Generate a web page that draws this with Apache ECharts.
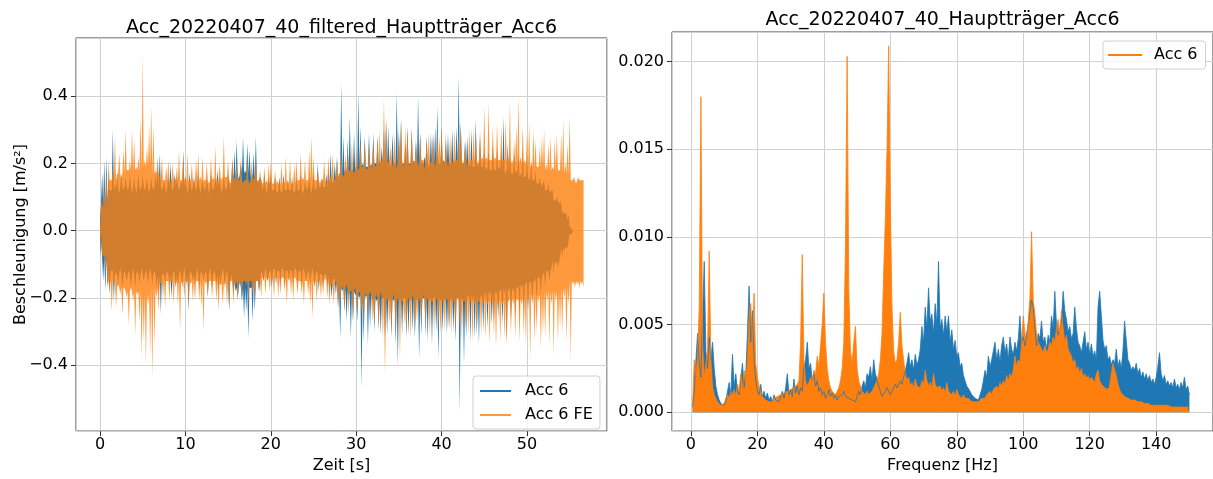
<!DOCTYPE html>
<html>
<head>
<meta charset="utf-8">
<script src="https://cdn.jsdelivr.net/npm/echarts@6/dist/echarts.min.js"></script>
<style>
  html, body { margin: 0; padding: 0; background: #ffffff; }
  #chart { width: 1213px; height: 479px; }
</style>
</head>
<body>
<div id="chart"></div>
<script>
// ---------------------------------------------------------------------------
// Time history: per 0.25 s column, the positive and negative peak
// (values in 0.01 m/s², one row = one second)
// ---------------------------------------------------------------------------
const timeStep = 0.25;

const acc6Max = [
  3, 17, 21, 22,   17, 12, 30, 14,   16, 11, 17, 12,   16, 12, 17, 11,   16, 11, 17, 12,   // 0-4 s
  17, 12, 16, 11,  16, 12, 17, 20,   23, 12, 15, 11,   16, 20, 12, 17,   16, 12, 15, 24,   // 5-9 s
  16, 11, 17, 12,  16, 12, 17, 11,   15, 12, 16, 11,   17, 12, 16, 18,   16, 11, 17, 12,   // 10-14 s
  17, 12, 21, 24,  27, 15, 20, 28,   18, 26, 24, 15,   23, 28, 14, 16,   12, 17, 11, 16,   // 15-19 s
  17, 12, 16, 11,  16, 11, 17, 12,   15, 12, 16, 11,   16, 12, 17, 11,   15, 12, 16, 11,   // 20-24 s
  17, 12, 20, 13,  16, 13, 17, 19,   23, 14, 20, 22,   17, 44, 28, 19,   27, 34, 18, 29,   // 25-29 s
  19, 41, 31, 20,  28, 19, 29, 20,   29, 20, 28, 21,   25, 30, 33, 31,   19, 29, 20, 41,   // 30-34 s
  30, 33, 20, 26,  31, 20, 30, 21,   27, 40, 29, 20,   22, 28, 19, 29,   29, 31, 37, 20,   // 35-39 s
  31, 21, 27, 29,  20, 30, 21, 31,   46, 32, 20, 27,   28, 20, 30, 19,   33, 20, 28, 19,   // 40-44 s
  25, 19, 24, 18,  25, 18, 24, 19,   25, 34, 18, 26,   24, 17, 23, 18,   23, 17, 24, 16,   // 45-49 s
  21, 16, 21, 15,  18, 14, 16, 13,   15, 12, 14, 11,   12, 9, 10, 8,     8, 6, 5, 3,       // 50-54 s
  1, 0                                                                                    // 55 s
];
const acc6Min = [
  -3, -15, -18, -17,   -19, -12, -21, -13,   -16, -11, -17, -12,   -15, -12, -17, -11,   -17, -12, -16, -11,
  -15, -12, -16, -11,  -16, -12, -17, -19,   -25, -13, -16, -12,   -16, -20, -12, -17,   -16, -12, -17, -11,
  -16, -24, -12, -15,  -16, -11, -17, -12,   -15, -12, -20, -11,   -17, -12, -16, -18,   -16, -11, -17, -12,
  -24, -13, -19, -18,  -20, -15, -21, -26,   -24, -32, -17, -27,   -24, -15, -18, -12,   -15, -11, -15, -12,
  -17, -11, -16, -12,  -16, -11, -17, -12,   -15, -12, -16, -11,   -16, -12, -17, -11,   -15, -12, -16, -11,
  -17, -12, -18, -13,  -16, -13, -17, -19,   -20, -14, -19, -23,   -32, -18, -24, -27,   -20, -32, -27, -19,
  -27, -20, -47, -33,  -20, -34, -29, -21,   -30, -21, -29, -31,   -20, -32, -31, -21,   -32, -21, -34, -40,
  -22, -31, -20, -32,  -31, -21, -30, -32,   -21, -38, -31, -20,   -31, -33, -21, -34,   -20, -30, -38, -21,
  -30, -21, -31, -29,  -21, -30, -33, -20,   -54, -21, -40, -32,   -20, -33, -21, -32,   -31, -34, -20, -30,
  -20, -29, -19, -28,  -27, -19, -26, -18,   -28, -19, -33, -18,   -26, -18, -25, -17,   -25, -17, -24, -16,
  -24, -16, -22, -15,  -21, -14, -19, -13,   -17, -12, -15, -11,   -13, -10, -11, -8,    -8, -6, -5, -3,
  -1, 0
];
// Half-width of the dense core of the trace, one value per second
const acc6Core = [
  8, 12, 13, 13, 13, 13, 13, 13, 13, 13,   13, 13, 13, 13, 13, 15, 17, 17, 15, 13,
  12, 12, 12, 12, 13, 13, 13, 15, 17, 18,  19, 19, 20, 20, 20, 20, 20, 20, 20, 20,
  20, 20, 20, 19, 19, 18, 18, 17, 17, 16,  15, 14, 12, 9, 5, 1
];

const acc6FeMax = [
  1, 9, 14, 18,    21, 15, 19, 28,   17, 23, 15, 24,   30, 18, 21, 30,   27, 19, 22, 34,   // 0-4 s
  52, 21, 25, 31,  37, 31, 18, 22,   16, 22, 15, 19,   21, 14, 20, 16,   19, 24, 15, 22,   // 5-9 s
  16, 23, 15, 20,  14, 21, 23, 16,   22, 15, 20, 14,   22, 16, 25, 15,   20, 15, 28, 16,   // 10-14 s
  21, 14, 22, 16,  21, 15, 22, 14,   15, 22, 14, 21,   16, 22, 15, 18,   14, 19, 15, 20,   // 15-19 s
  21, 14, 18, 15,  14, 20, 15, 22,   15, 21, 14, 20,   21, 15, 23, 16,   21, 15, 24, 28,   // 20-24 s
  22, 15, 18, 14,  15, 21, 14, 22,   16, 23, 15, 21,   17, 24, 16, 23,   24, 18, 26, 17,   // 25-29 s
  25, 18, 27, 19,  27, 18, 26, 19,   27, 19, 28, 30,   21, 39, 33, 20,   25, 19, 29, 18,   // 30-34 s
  28, 33, 19, 31,  30, 19, 31, 20,   26, 19, 29, 21,   18, 27, 29, 20,   28, 19, 30, 28,   // 35-39 s
  31, 20, 29, 19,  28, 20, 30, 21,   29, 32, 20, 26,   19, 30, 21, 30,   29, 20, 30, 22,   // 40-44 s
  37, 22, 38, 21,  31, 22, 32, 21,   31, 21, 33, 22,   38, 21, 27, 31,   40, 22, 31, 21,   // 45-49 s
  29, 32, 20, 30,  27, 19, 25, 28,   30, 20, 26, 28,   19, 27, 29, 18,   29, 33, 20, 26,   // 50-54 s
  34, 15, 16, 14,  16, 15, 15                                                             // 55-56.5 s
];
const acc6FeMin = [
  -1, -8, -13, -16,    -18, -24, -15, -23,   -16, -19, -25, -17,   -20, -28, -17, -21,   -31, -19, -27, -38,
  -33, -40, -22, -37,  -44, -34, -20, -24,   -16, -20, -23, -15,   -21, -15, -22, -16,   -22, -30, -16, -20,
  -15, -23, -16, -21,  -21, -15, -21, -23,   -30, -16, -19, -15,   -20, -15, -21, -24,   -16, -22, -15, -22,
  -23, -15, -22, -16,  -21, -16, -20, -15,   -16, -22, -15, -19,   -21, -15, -18, -20,   -14, -19, -15, -18,
  -15, -20, -14, -20,  -19, -14, -18, -22,   -15, -19, -21, -14,   -19, -15, -19, -22,   -15, -19, -22, -26,
  -16, -21, -15, -20,  -19, -14, -20, -22,   -16, -22, -15, -23,   -22, -17, -24, -16,   -25, -18, -27, -17,
  -24, -18, -25, -28,  -19, -26, -18, -27,   -28, -19, -30, -18,   -32, -43, -20, -28,   -30, -19, -32, -20,
  -38, -21, -28, -31,  -20, -32, -19, -30,   -27, -20, -28, -19,   -29, -20, -31, -21,   -30, -20, -29, -31,
  -21, -30, -20, -29,  -31, -21, -30, -20,   -29, -32, -21, -30,   -31, -21, -33, -22,   -30, -21, -31, -22,
  -32, -22, -34, -21,  -31, -35, -22, -33,   -22, -32, -34, -21,   -31, -22, -32, -21,   -33, -22, -31, -34,
  -22, -38, -21, -33,  -30, -21, -35, -31,   -32, -21, -34, -22,   -37, -21, -33, -29,   -31, -20, -33, -22,
  -39, -16, -17, -16,  -17, -16, -17
];
const acc6FeCore = [
  7, 15, 17, 18, 18, 19, 17, 15, 15, 15,   15, 15, 15, 15, 16, 15, 15, 15, 15, 14,
  14, 14, 14, 15, 15, 15, 15, 16, 17, 18,  19, 19, 20, 21, 21, 21, 21, 21, 21, 21,
  21, 21, 21, 21, 21, 21, 21, 21, 20, 20,  19, 19, 18, 18, 17, 15, 15
];

// ---------------------------------------------------------------------------
// Amplitude spectrum, every 0.5 Hz starting at 0.5 Hz (values in 1e-4)
// one row = 5 Hz
// ---------------------------------------------------------------------------
const freqStart = 0.5;
const freqStep = 0.5;

const spectrumMeasured = [
  3, 12, 30, 45, 28, 20, 55, 86, 35, 25,        // 0.5-5
  43, 30, 40, 25, 15, 10, 7, 5, 4, 4,           // 5.5-10
  6, 12, 17, 10, 33, 15, 22, 12, 10, 18,        // 10.5-15
  28, 14, 22, 45, 72, 40, 58, 30, 18, 12,       // 15.5-20
  10, 16, 9, 12, 8, 11, 7, 9, 6, 10,            // 20.5-25
  7, 8, 6, 9, 12, 8, 14, 22, 10, 13,            // 25.5-30
  9, 19, 11, 15, 10, 14, 12, 25, 30, 40,        // 30.5-35
  25, 28, 18, 22, 15, 18, 12, 14, 10, 12,       // 35.5-40
  8, 10, 13, 9, 11, 8, 10, 7, 9, 8,             // 40.5-45
  10, 12, 9, 10, 8, 9, 7, 8, 6, 9,              // 45.5-50
  12, 10, 15, 18, 14, 22, 20, 26, 18, 30,       // 50.5-55
  22, 19, 15, 12, 9, 10, 12, 14, 12, 10,        // 55.5-60
  12, 14, 16, 14, 15, 18, 16, 20, 24, 28,       // 60.5-65
  34, 26, 30, 24, 33, 27, 30, 36, 49, 40,       // 65.5-70
  60, 48, 71, 52, 56, 45, 62, 50, 86, 48,       // 70.5-75
  53, 44, 55, 46, 55, 40, 47, 36, 41, 32,       // 75.5-80
  34, 26, 28, 21, 20, 15, 14, 12, 10, 9,        // 80.5-85
  8, 7, 7, 8, 13, 18, 24, 20, 32, 26,           // 85.5-90
  30, 35, 40, 30, 36, 29, 38, 43, 34, 39,       // 90.5-95
  30, 43, 36, 33, 40, 35, 42, 55, 40, 43,       // 95.5-100
  38, 45, 50, 58, 64, 60, 48, 38, 45, 42,       // 100.5-105
  52, 40, 43, 36, 44, 40, 55, 48, 69, 50,       // 105.5-110
  44, 47, 52, 69, 58, 53, 46, 49, 42, 45,       // 110.5-115
  60, 48, 40, 38, 34, 40, 46, 36, 40, 33,       // 115.5-120
  39, 32, 35, 30, 60, 69, 68, 41, 36, 38,       // 120.5-125
  30, 32, 27, 30, 28, 36, 26, 30, 25, 35,       // 125.5-130
  52, 41, 30, 28, 24, 26, 24, 28, 22, 25,       // 130.5-135
  20, 23, 19, 22, 18, 21, 17, 19, 16, 20,       // 135.5-140
  26, 34, 22, 18, 21, 16, 18, 15, 17, 14,       // 140.5-145
  19, 14, 16, 13, 17, 14, 20, 13, 15, 10        // 145.5-150
];
const spectrumAcc6 = [
  5, 30, 22, 32, 60, 180, 40, 20, 28, 35,       // 0.5-5
  92, 30, 15, 10, 8, 6, 5, 4, 4, 5,             // 5.5-10
  8, 10, 8, 12, 10, 13, 9, 16, 12, 22,          // 10.5-15
  14, 24, 18, 30, 55, 62, 40, 68, 28, 20,       // 15.5-20
  15, 12, 9, 8, 7, 8, 6, 7, 6, 8,               // 20.5-25
  7, 9, 8, 10, 9, 11, 10, 12, 11, 13,           // 25.5-30
  12, 14, 13, 16, 18, 40, 90, 30, 18, 15,       // 30.5-35
  17, 20, 18, 24, 22, 32, 26, 38, 50, 68,       // 35.5-40
  40, 25, 18, 14, 12, 11, 10, 12, 14, 18,       // 40.5-45
  25, 40, 95, 203, 70, 35, 28, 40, 49, 25,      // 45.5-50
  18, 15, 12, 11, 10, 12, 10, 11, 12, 14,       // 50.5-55
  15, 18, 22, 30, 45, 80, 110, 150, 209, 120,   // 55.5-60
  60, 35, 28, 30, 40, 57, 38, 30, 22, 18,       // 60.5-65
  20, 15, 17, 14, 19, 15, 16, 14, 18, 16,       // 65.5-70
  24, 18, 15, 17, 14, 22, 16, 14, 13, 15,       // 70.5-75
  12, 14, 11, 17, 12, 11, 10, 12, 9, 13,        // 75.5-80
  10, 9, 8, 10, 8, 7, 8, 7, 6, 7,               // 80.5-85
  6, 7, 6, 7, 8, 9, 8, 10, 9, 12,               // 85.5-90
  10, 13, 12, 15, 13, 17, 15, 18, 16, 21,       // 90.5-95
  18, 22, 20, 24, 32, 26, 30, 28, 39, 55,       // 95.5-100
  45, 38, 52, 65, 103, 64, 56, 45, 40, 39,      // 100.5-105
  36, 34, 38, 34, 36, 40, 38, 43, 40, 48,       // 105.5-110
  53, 45, 58, 48, 40, 44, 36, 34, 32, 28,       // 110.5-115
  30, 24, 26, 22, 25, 20, 22, 19, 21, 18,       // 115.5-120
  20, 19, 17, 22, 24, 18, 16, 15, 14, 13,       // 120.5-125
  13, 15, 22, 28, 24, 21, 16, 13, 11, 10,       // 125.5-130
  9, 9, 8, 8, 7, 7, 7, 7, 6, 6,                 // 130.5-135
  6, 5, 5, 5, 5, 5, 4, 4, 4, 4,                 // 135.5-140
  4, 4, 4, 4, 4, 4, 4, 4, 3, 3,                 // 140.5-145
  3, 3, 3, 3, 3, 3, 3, 3, 3, 3                  // 145.5-150
];

// ---------------------------------------------------------------------------
// Build the series data
// ---------------------------------------------------------------------------
const BLUE = '#1f77b4';
const ORANGE = '#ff7f0e';
const FONT = 'DejaVu Sans';

// Outline of a dense trace: the positive peaks rise out of the core on top,
// the negative peaks hang below it; the outline is closed into one polygon.
function traceOutline(maxArr, minArr, coreArr) {
  const n = Math.min(maxArr.length, minArr.length);
  const upper = [];
  const lower = [];
  for (let i = 0; i < n; i++) {
    const t = i * timeStep;
    const c = coreArr[Math.min(Math.floor(t), coreArr.length - 1)] / 100;
    upper.push([t, maxArr[i] / 100], [t + timeStep / 2, c]);
    lower.push([t, -c], [t + timeStep / 2, minArr[i] / 100]);
  }
  return upper.concat(lower.reverse());
}
function spectrumRows(arr) {
  return arr.map((v, i) => [freqStart + i * freqStep, v / 10000]);
}

function signedFixed(dec) {
  return function (v) {
    const s = Math.abs(v).toFixed(dec);
    return v < -1e-12 ? '\u2212' + s : s;
  };
}

const acc6Outline = traceOutline(acc6Max, acc6Min, acc6Core);
const acc6FeOutline = traceOutline(acc6FeMax, acc6FeMin, acc6FeCore);

const labelStyle = { fontFamily: FONT, fontSize: 16, color: '#000' };
const tickStyle = { show: true, inside: false, length: 5, lineStyle: { color: '#333', width: 1 } };
const gridLine = { show: true, lineStyle: { color: '#d0d0d0', width: 1 } };
const noAxisLine = { show: false, onZero: false };

// The whole outline is drawn as a single polygon (on the first item),
// so a translucent fill never overlaps itself.
function outlineSeries(name, outline, color, fill) {
  return {
    name: name, type: 'custom', xAxisIndex: 0, yAxisIndex: 0, clip: true,
    itemStyle: { color: color },
    encode: { x: 0, y: 1 },
    data: outline,
    renderItem: function (params, api) {
      if (params.dataIndex !== 0) return null;
      return {
        type: 'polygon',
        shape: { points: outline.map(p => api.coord(p)) },
        style: { fill: fill }
      };
    }
  };
}

const option = {
  animation: false,
  backgroundColor: '#ffffff',
  graphic: [
    { type: 'text', x: 341.5, y: 28, silent: true,
      style: { text: 'Acc_20220407_40_filtered_Hauptträger_Acc6', font: '19px "DejaVu Sans"',
               fill: '#000', align: 'center', verticalAlign: 'middle' } },
    { type: 'text', x: 942.5, y: 20, silent: true,
      style: { text: 'Acc_20220407_40_Hauptträger_Acc6', font: '19px "DejaVu Sans"',
               fill: '#000', align: 'center', verticalAlign: 'middle' } }
  ],
  grid: [
    { left: 76, top: 38, width: 531, height: 399, show: true, borderColor: '#3c3c3c', borderWidth: 1 },
    { left: 672, top: 32, width: 542, height: 404, show: true, borderColor: '#3c3c3c', borderWidth: 1 }
  ],
  xAxis: [
    { type: 'value', gridIndex: 0, min: -2.81, max: 59.37, splitNumber: 5,
      name: 'Zeit [s]', nameLocation: 'middle', nameGap: 24, nameTextStyle: labelStyle,
      axisLine: noAxisLine, axisTick: tickStyle, splitLine: gridLine,
      axisLabel: Object.assign({ margin: 6, showMinLabel: false, showMaxLabel: false }, labelStyle) },
    { type: 'value', gridIndex: 1, min: -5.7, max: 157.1, splitNumber: 8,
      name: 'Frequenz [Hz]', nameLocation: 'middle', nameGap: 24, nameTextStyle: labelStyle,
      axisLine: noAxisLine, axisTick: tickStyle, splitLine: gridLine,
      axisLabel: Object.assign({ margin: 6, showMinLabel: false, showMaxLabel: false }, labelStyle) }
  ],
  yAxis: [
    { type: 'value', gridIndex: 0, min: -0.596, max: 0.573, splitNumber: 5,
      name: 'Beschleunigung [m/s²]', nameLocation: 'middle', nameGap: 47, nameRotate: 90,
      nameMoveOverlap: false, nameTextStyle: labelStyle,
      axisLine: noAxisLine, axisTick: tickStyle, splitLine: gridLine,
      axisLabel: Object.assign({ margin: 8, showMinLabel: false, showMaxLabel: false,
                                 formatter: signedFixed(1) }, labelStyle) },
    { type: 'value', gridIndex: 1, min: -0.00107, max: 0.02169, splitNumber: 5,
      axisLine: noAxisLine, axisTick: tickStyle, splitLine: gridLine,
      axisLabel: Object.assign({ margin: 8, showMinLabel: false, showMaxLabel: false,
                                 formatter: signedFixed(3) }, labelStyle) }
  ],
  legend: [
    { data: [{ name: 'Acc 6', itemStyle: { color: BLUE } },
             { name: 'Acc 6 FE', itemStyle: { color: ORANGE, opacity: 0.8 } }],
      orient: 'vertical', left: 473, top: 376, selectedMode: false,
      icon: 'rect', itemWidth: 31, itemHeight: 2, itemGap: 6,
      textStyle: { fontFamily: FONT, fontSize: 16, color: '#000', padding: [0, 0, 0, 9], lineHeight: 18 },
      backgroundColor: 'rgba(255,255,255,0.8)', borderColor: '#d0d0d0', borderWidth: 1, borderRadius: 3,
      padding: [6, 7, 5, 7] },
    { data: [{ name: 'Acc 6', itemStyle: { color: ORANGE } }],
      orient: 'vertical', left: 1103, top: 41, selectedMode: false,
      icon: 'rect', itemWidth: 34, itemHeight: 2,
      textStyle: { fontFamily: FONT, fontSize: 16, color: '#000', padding: [0, 0, 0, 7], lineHeight: 18 },
      backgroundColor: 'rgba(255,255,255,0.8)', borderColor: '#d0d0d0', borderWidth: 1, borderRadius: 3,
      padding: [5, 8, 5, 5] }
  ],
  series: [
    outlineSeries('Acc 6', acc6Outline, BLUE, BLUE),
    outlineSeries('Acc 6 FE', acc6FeOutline, ORANGE, 'rgba(255,127,14,0.8)'),
    { name: 'Acc 6 FE', type: 'line', xAxisIndex: 1, yAxisIndex: 1,
      symbol: 'none', showSymbol: false, sampling: null,
      lineStyle: { color: BLUE, width: 0.8 },
      itemStyle: { color: BLUE },
      areaStyle: { color: BLUE, opacity: 1 },
      data: spectrumRows(spectrumMeasured) },
    { name: 'Acc 6', type: 'line', xAxisIndex: 1, yAxisIndex: 1,
      symbol: 'none', showSymbol: false, sampling: null,
      lineStyle: { color: ORANGE, width: 0.8 },
      itemStyle: { color: ORANGE },
      areaStyle: { color: ORANGE, opacity: 1 },
      data: spectrumRows(spectrumAcc6) }
  ]
};

const chart = echarts.init(document.getElementById('chart'), null, { renderer: 'canvas' });
chart.setOption(option);
</script>
</body>
</html>
